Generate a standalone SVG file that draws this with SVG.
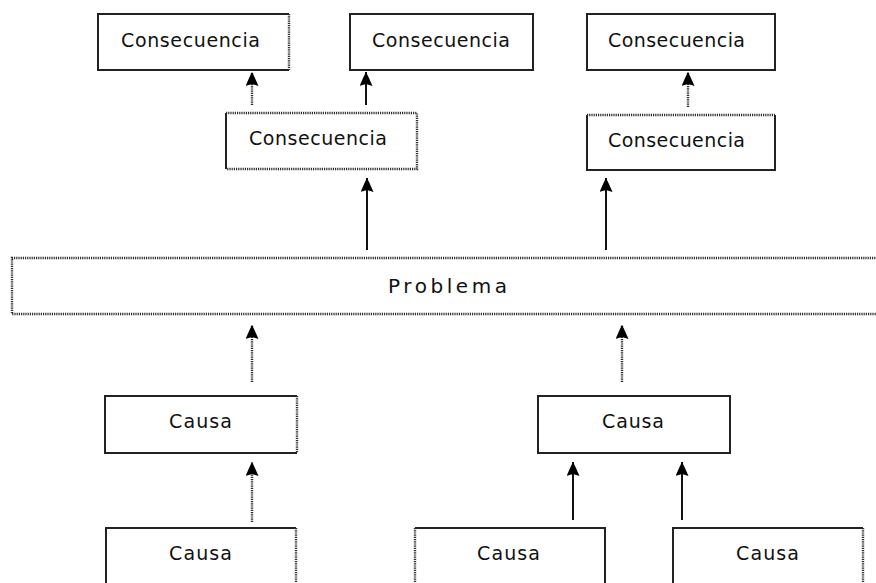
<svg xmlns="http://www.w3.org/2000/svg" width="876" height="583" viewBox="0 0 876 583">
  <style>
    .box { fill: #ffffff; stroke: none; }
    .edge { stroke: #222222; stroke-width: 2; fill: none; }
    .dot { stroke: #2e2e2e; stroke-width: 2.4; stroke-dasharray: 1.2 1; fill: none; }
    .lbl { font-family: "DejaVu Sans", Verdana, sans-serif; font-size: 19px; fill: #111111; }
    .lbl.big { font-size: 20px; }
    .link { stroke: #111111; stroke-width: 2; fill: none; marker-end: url(#head); }
    .link.dotted { stroke: #2a2a2a; stroke-width: 2.4; stroke-dasharray: 1.2 1; }
  </style>
  <defs>
    <marker id="head" viewBox="0 0 15 13" refX="15" refY="6.5" markerWidth="15" markerHeight="13" markerUnits="userSpaceOnUse" orient="auto">
      <path d="M15,6.5 L10,4 L1,0 L3,6.5 L1,13 L10,9 z" fill="#000000"/>
    </marker>
  </defs>

  <rect width="876" height="583" fill="#ffffff"/>

  <!-- top row: consequences -->
  <g id="cons-top-1">
    <rect class="box" x="98" y="14" width="191" height="56"/>
    <path class="edge" d="M289,14 H98 V70 H289"/>
    <path class="dot" d="M289,14 V70"/>
    <text class="lbl" x="121" y="47" textLength="139" lengthAdjust="spacing">Consecuencia</text>
  </g>
  <g id="cons-top-2">
    <rect class="box" x="350" y="14" width="183" height="56"/>
    <path class="edge" d="M350,14 H533 V70 H350 Z"/>
    <text class="lbl" x="372" y="47" textLength="138" lengthAdjust="spacing">Consecuencia</text>
  </g>
  <g id="cons-top-3">
    <rect class="box" x="587" y="14" width="188" height="56"/>
    <path class="edge" d="M587,14 H775 V70 H587 Z"/>
    <text class="lbl" x="608" y="47" textLength="137" lengthAdjust="spacing">Consecuencia</text>
  </g>

  <!-- second row: direct consequences -->
  <g id="cons-mid-left">
    <rect class="box" x="226" y="113" width="191" height="56"/>
    <path class="edge" d="M226,113 V169"/>
    <path class="dot" d="M226,113 H417 V169 H226"/>
    <text class="lbl" x="249" y="145" textLength="138" lengthAdjust="spacing">Consecuencia</text>
  </g>
  <g id="cons-mid-right">
    <rect class="box" x="587" y="115" width="188" height="55"/>
    <path class="edge" d="M775,115 V170 H587 V115"/>
    <path class="dot" d="M587,115 H775"/>
    <text class="lbl" x="608" y="147" textLength="137" lengthAdjust="spacing">Consecuencia</text>
  </g>

  <!-- central problem -->
  <g id="problema">
    <rect class="box" x="12" y="258" width="870" height="56"/>
    <path class="dot" d="M882,258 H12 V314 H882"/>
    <text class="lbl big" x="388" y="293" textLength="119" lengthAdjust="spacing">Problema</text>
  </g>

  <!-- causes -->
  <g id="causa-mid-left">
    <rect class="box" x="105" y="396" width="192" height="57"/>
    <path class="edge" d="M297,396 H105 V453 H297"/>
    <path class="dot" d="M297,396 V453"/>
    <text class="lbl" x="169" y="428" textLength="63" lengthAdjust="spacing">Causa</text>
  </g>
  <g id="causa-mid-right">
    <rect class="box" x="538" y="396" width="192" height="57"/>
    <path class="edge" d="M538,396 H730 V453 H538 Z"/>
    <text class="lbl" x="602" y="428" textLength="62" lengthAdjust="spacing">Causa</text>
  </g>
  <g id="causa-bottom-left">
    <rect class="box" x="106" y="528" width="190" height="60"/>
    <path class="edge" d="M106,590 V528 H296"/>
    <path class="dot" d="M296,528 V590"/>
    <text class="lbl" x="169" y="560" textLength="63" lengthAdjust="spacing">Causa</text>
  </g>
  <g id="causa-bottom-mid">
    <rect class="box" x="415" y="528" width="190" height="60"/>
    <path class="edge" d="M415,528 H605 V590"/>
    <path class="dot" d="M415,528 V590"/>
    <text class="lbl" x="477" y="560" textLength="63" lengthAdjust="spacing">Causa</text>
  </g>
  <g id="causa-bottom-right">
    <rect class="box" x="673" y="528" width="190" height="60"/>
    <path class="edge" d="M673,590 V528 H863"/>
    <path class="dot" d="M863,528 V590"/>
    <text class="lbl" x="736" y="560" textLength="63" lengthAdjust="spacing">Causa</text>
  </g>

  <!-- connectors -->
  <g id="connectors">
    <line class="link dotted" x1="252" y1="105" x2="252" y2="72"/>
    <line class="link" x1="366" y1="105" x2="366" y2="72"/>
    <line class="link dotted" x1="688" y1="107" x2="688" y2="72"/>
    <line class="link" x1="367" y1="250" x2="367" y2="178"/>
    <line class="link" x1="606" y1="250" x2="606" y2="178"/>
    <line class="link dotted" x1="252" y1="382" x2="252" y2="325"/>
    <line class="link dotted" x1="622" y1="382" x2="622" y2="325"/>
    <line class="link dotted" x1="252" y1="522" x2="252" y2="462"/>
    <line class="link" x1="573" y1="520" x2="573" y2="462"/>
    <line class="link" x1="682" y1="520" x2="682" y2="462"/>
  </g>
</svg>
